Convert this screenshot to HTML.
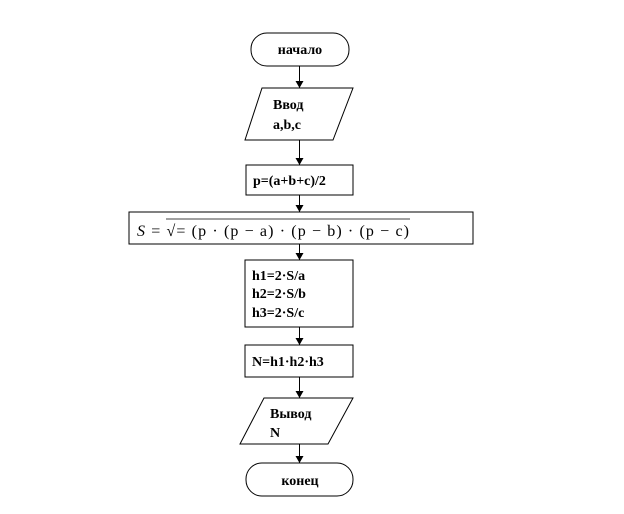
<!DOCTYPE html>
<html><head><meta charset="utf-8"><style>
body{margin:0;background:#fff;}
svg text{font-family:"Liberation Serif",serif;font-weight:bold;font-size:14px;fill:#000;}
</style></head><body>
<svg width="624" height="509" viewBox="0 0 624 509" xmlns="http://www.w3.org/2000/svg">
<defs><marker id="a" markerWidth="8" markerHeight="8" refX="7" refY="4" orient="auto" markerUnits="userSpaceOnUse"><path d="M0,0 L7,4 L0,8 Z" fill="#000"/></marker></defs>
<g fill="#fff" stroke="#000" stroke-width="1">
<rect x="251" y="33" width="98" height="33" rx="16" ry="16"/>
<polygon points="262,88 353,88 333,140 245,140"/>
<rect x="246" y="165" width="107" height="30"/>
<rect x="129" y="212" width="344" height="32"/>
<rect x="245" y="260" width="108" height="67"/>
<rect x="245" y="345" width="108" height="32"/>
<polygon points="264,398 353,398 328,444 240,444"/>
<rect x="246" y="463" width="107" height="33" rx="16" ry="16"/>
</g>
<g stroke="#000" stroke-width="1" marker-end="url(#a)">
<line x1="299.5" y1="66" x2="299.5" y2="88"/>
<line x1="299.5" y1="140" x2="299.5" y2="165"/>
<line x1="299.5" y1="195" x2="299.5" y2="212"/>
<line x1="299.5" y1="244" x2="299.5" y2="260"/>
<line x1="299.5" y1="327" x2="299.5" y2="345"/>
<line x1="299.5" y1="377" x2="299.5" y2="398"/>
<line x1="299.5" y1="444" x2="299.5" y2="463"/>
</g>
<text x="300" y="54" text-anchor="middle">начало</text>
<text x="273" y="109">Ввод</text>
<text x="273" y="129">a,b,c</text>
<text x="253" y="185">p=(a+b+c)/2</text>
<text x="137" y="236" style="font-weight:normal;font-size:16px" textLength="272" lengthAdjust="spacing"><tspan font-style="italic">S</tspan> = √= (p · (p − a)  ·  (p − b)  ·  (p − c)</text>
<line x1="166" y1="219" x2="410" y2="219" stroke="#000" stroke-width="0.8"/>
<text x="252" y="280">h1=2·S/a</text>
<text x="252" y="298">h2=2·S/b</text>
<text x="252" y="317">h3=2·S/c</text>
<text x="252" y="366">N=h1·h2·h3</text>
<text x="270" y="418">Вывод</text>
<text x="270" y="437">N</text>
<text x="300" y="485" text-anchor="middle">конец</text>
</svg>
</body></html>
